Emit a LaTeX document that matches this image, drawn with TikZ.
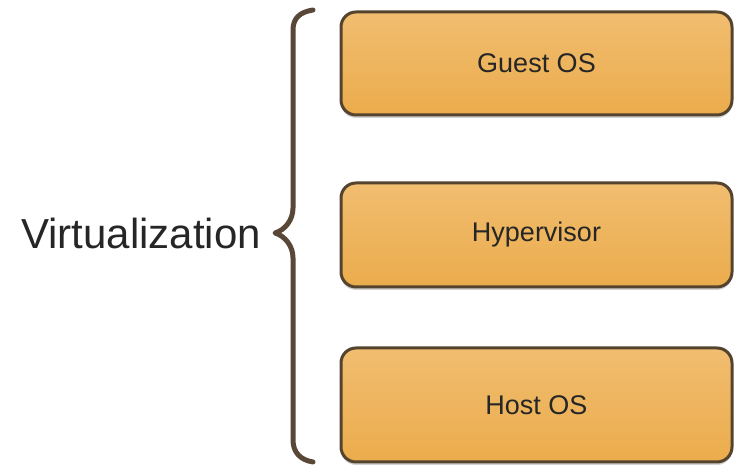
\documentclass[tikz,border=0pt]{standalone}
\usepackage{fontspec}
\setmainfont{Liberation Sans}
\usetikzlibrary{shadows}
\definecolor{boxline}{HTML}{54432F}
\definecolor{boxtop}{HTML}{F1BD70}
\definecolor{boxbot}{HTML}{EBAC4C}
\definecolor{bracecol}{HTML}{594738}
\begin{document}
\begin{tikzpicture}[x=1pt,y=1pt,
  layerbox/.style={draw=boxline, line width=3pt, rounded corners=15pt,
    top color=boxtop, bottom color=boxbot, minimum width=391pt,
    drop shadow={opacity=0.35, shadow xshift=0pt, shadow yshift=-3pt},
    font=\fontsize{27}{32}\selectfont, text=black!85, inner sep=0pt},
  bracestyle/.style={draw=bracecol, line width=5pt, line cap=round, line join=round}]
\useasboundingbox (0,0) rectangle (734,470);
\node[layerbox, minimum height=103pt] (guest) at (536.5,406.5) {Guest OS};
\node[layerbox, minimum height=104pt] (hyper) at (536.5,235) {Hypervisor};
\node[layerbox, minimum height=114pt] (host) at (536.5,65) {Host OS};
\node[anchor=east, font=\fontsize{42}{50}\selectfont, text=black!85, inner sep=0pt] (virt) at (261,237) {Virtualization};
\draw[bracestyle] (313,460) .. controls (300,458) and (293,452) .. (293,440)
  -- (293,262) .. controls (293,250) and (285,240) .. (275,237)
  .. controls (285,234) and (293,224) .. (293,212)
  -- (293,30) .. controls (293,18) and (300,10) .. (313,8);
\end{tikzpicture}
\end{document}
